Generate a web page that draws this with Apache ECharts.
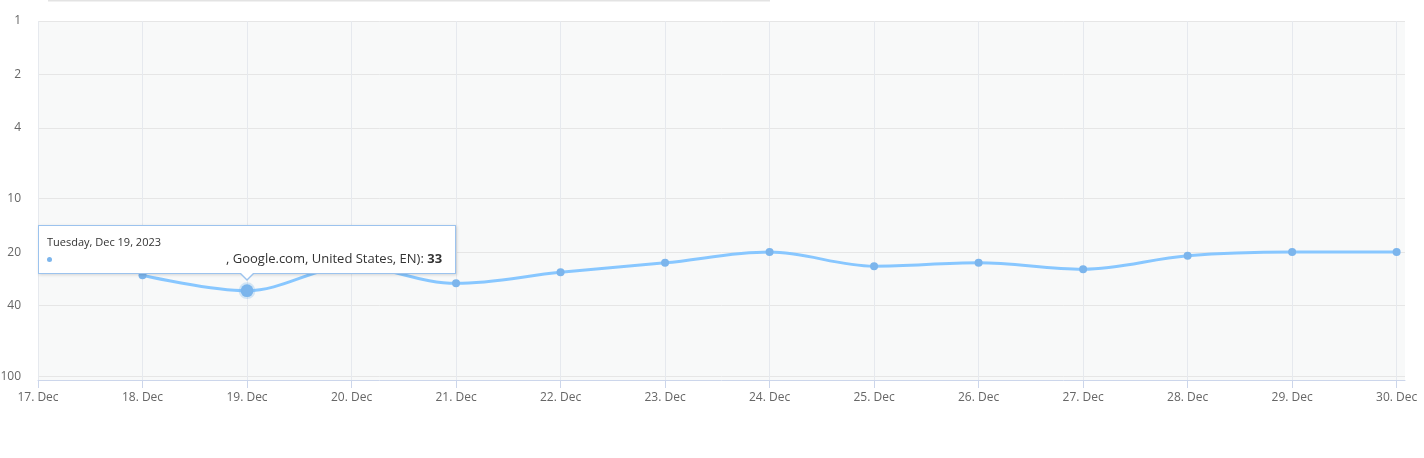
<!DOCTYPE html>
<html>
<head>
<meta charset="utf-8">
<script src="https://cdn.jsdelivr.net/npm/echarts@6/dist/echarts.min.js"></script>
<style>
  html, body { margin: 0; padding: 0; background: #fff; }
  #chart { width: 1424px; height: 458px; }
</style>
</head>
<body>
<div id="chart"></div>
<script>
// x labels, one per day
const days = ['17. Dec', '18. Dec', '19. Dec', '20. Dec', '21. Dec', '22. Dec', '23. Dec',
  '24. Dec', '25. Dec', '26. Dec', '27. Dec', '28. Dec', '29. Dec', '30. Dec']
// ranking position per day (null = no data)
const ranks = [null, 27, 33, 24, 30, 26, 23, 20, 24, 23, 25, 21, 20, 20]
// y tick labels (log, reversed)
const rankTicks = [1, 2, 4, 10, 20, 40, 100]

const tipIndex = 2
const tipDate = 'Tuesday, Dec 19, 2023'

const chart = echarts.init(document.getElementById('chart'))

const lineData = ranks.map((v, i) => [i, v])

const option = {
  animation: false,
  textStyle: { fontFamily: 'Open Sans, DejaVu Sans, sans-serif' },
  grid: {
    left: 38, right: 19, top: 21, bottom: 78,
    outerBoundsMode: 'none',
    show: true, backgroundColor: '#f8f9f9', borderWidth: 0
  },
  graphic: [
    { type: 'rect', left: 48, top: 0, shape: { width: 722, height: 1.5 }, style: { fill: '#e3e3e3' } }
  ],
  xAxis: {
    type: 'value',
    min: 0,
    max: 13.08,
    interval: 1,
    axisLine: { lineStyle: { color: '#ccd6eb', width: 1 } },
    axisTick: { show: true, length: 8, lineStyle: { color: '#ccd6eb' }, customValues: days.map((d, i) => i) },
    axisLabel: {
      customValues: days.map((d, i) => i),
      color: '#666', fontSize: 12, margin: 12,
      formatter: v => days[v] || ''
    },
    splitLine: { show: true, lineStyle: { color: '#e6e9ee', width: 1 } }
  },
  yAxis: {
    type: 'log',
    inverse: true,
    min: 1,
    max: 105,
    axisLine: { show: false },
    axisTick: { show: false, customValues: rankTicks },
    axisLabel: { customValues: rankTicks, color: '#666', fontSize: 12, margin: 17 },
    splitLine: { show: true, lineStyle: { color: '#e6e6e6', width: 1 } }
  },
  tooltip: {
    trigger: 'item',
    triggerOn: 'none',
    alwaysShowContent: true,
    backgroundColor: '#fff',
    borderColor: '#9cc3ee',
    borderWidth: 1,
    padding: [7, 8, 6, 8],
    extraCssText: 'box-shadow: 1px 1px 3px rgba(0,0,0,0.15); border-radius: 0; overflow: visible;',
    position: () => [38, 225],
    formatter: p => {
      return '<div style="position:relative;color:#333;line-height:17px">' +
        '<div style="font-size:11px">' + tipDate + '</div>' +
        '<div style="font-size:13px;white-space:nowrap">' +
        '<span style="display:inline-block;width:5px;height:5px;border-radius:50%;background:#7cb5ec;vertical-align:middle;margin-right:2px"></span>' +
        '<span style="display:inline-block;width:172px"></span>' +
        ', Google.com, United States, EN): <b>' + p.value[1] + '</b>' +
        '<span style="display:inline-block;width:5px"></span></div>' +
        '<div style="position:absolute;left:' + (246 - 38 - 9 - 6) + 'px;bottom:-14px;width:0;height:0;border-left:7px solid transparent;border-right:7px solid transparent;border-top:7px solid #9cc3ee"></div>' +
        '<div style="position:absolute;left:' + (246 - 38 - 9 - 5) + 'px;bottom:-12px;width:0;height:0;border-left:6px solid transparent;border-right:6px solid transparent;border-top:6px solid #fff"></div>' +
        '</div>'
    }
  },
  series: [
    {
      type: 'line',
      data: lineData,
      smooth: 0.35,
      connectNulls: false,
      symbol: 'circle',
      symbolSize: 8,
      showSymbol: true,
      lineStyle: { color: '#7cb5ec', width: 3 },
      itemStyle: { color: '#7cb5ec' },
      emphasis: {
        scale: 1.6,
        itemStyle: { color: '#7cb5ec', borderColor: 'rgba(124,181,236,0.3)', borderWidth: 4 },
        lineStyle: { width: 3 }
      }
    }
  ]
}

chart.setOption(option)
chart.dispatchAction({ type: 'highlight', seriesIndex: 0, dataIndex: tipIndex })
chart.dispatchAction({ type: 'showTip', seriesIndex: 0, dataIndex: tipIndex })
</script>
</body>
</html>
